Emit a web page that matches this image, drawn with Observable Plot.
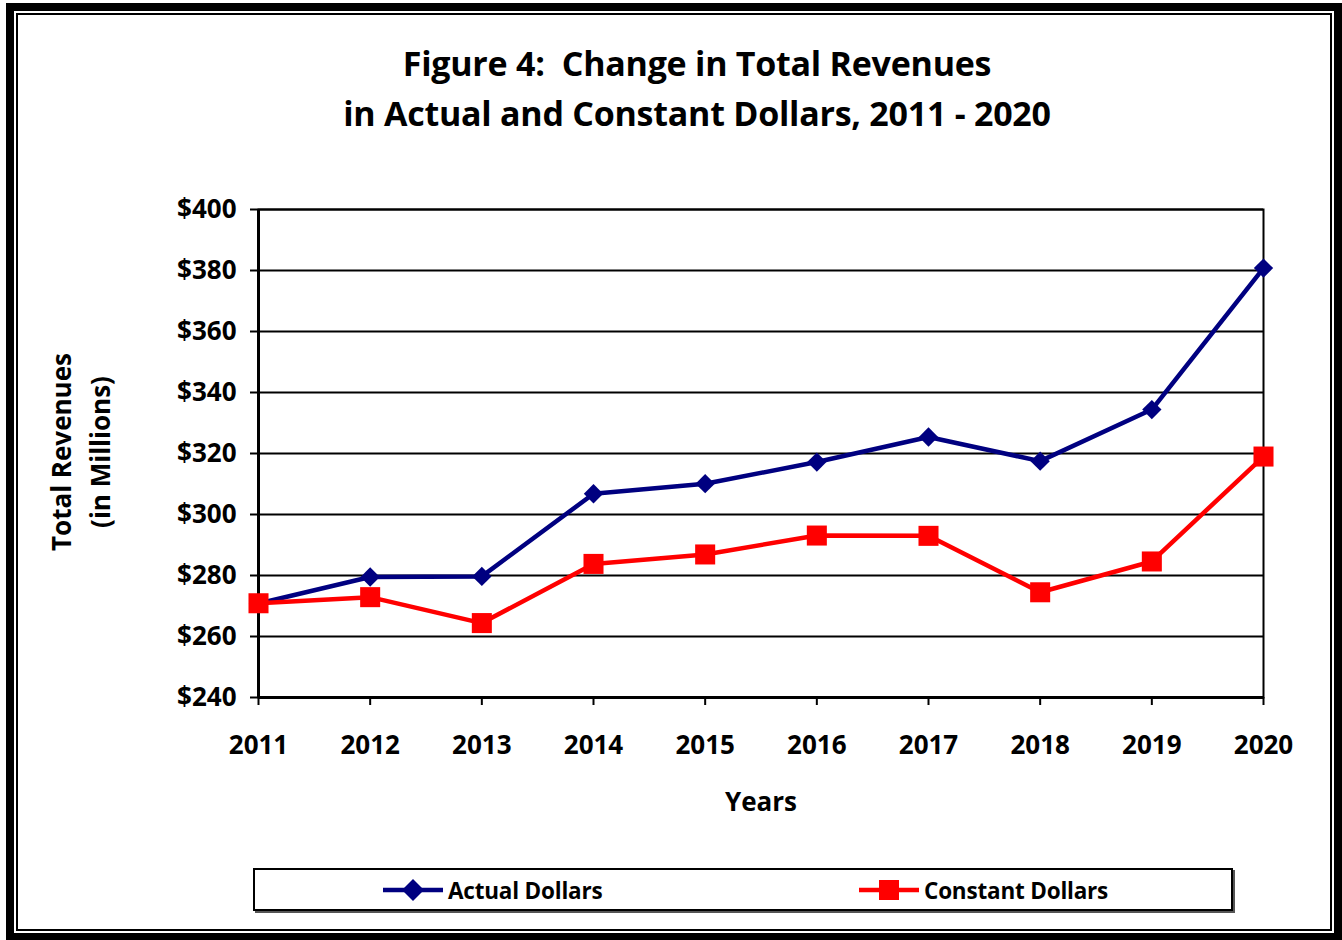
<!DOCTYPE html>
<html>
<head>
<meta charset="utf-8">
<script src="https://cdn.jsdelivr.net/npm/d3@7"></script>
<script src="https://cdn.jsdelivr.net/npm/@observablehq/plot@0.6"></script>
<style>
  html, body { margin: 0; padding: 0; background: #fff; }
  body { width: 1342px; height: 940px; position: relative; overflow: hidden; font-family: "Open Sans", Lato, sans-serif; font-weight: bold; color: #000; }
  #outer { position: absolute; left: 6px; top: 3px; width: 1336px; height: 937px; box-sizing: border-box; border: 8px solid #000; border-bottom-width: 7px; }
  #inner { position: absolute; left: 16px; top: 13px; width: 1316px; height: 918px; box-sizing: border-box; border: 2px solid #000; }
  #chart { position: absolute; left: 0; top: 0; }
  .title { position: absolute; left: 0; width: 1394px; text-align: center; font-size: 34px; line-height: 40px; letter-spacing: -0.25px; }
  .ylab { position: absolute; font-size: 26px; line-height: 30px; transform: rotate(-90deg); transform-origin: center center; text-align: center; white-space: nowrap; width: 300px; }
  #xlab { position: absolute; left: 661px; width: 200px; top: 786px; text-align: center; font-size: 26px; line-height: 30px; }
  #legend { position: absolute; left: 253px; top: 868px; width: 980px; height: 43px; box-sizing: border-box; border: 2px solid #000; box-shadow: 2px 2px 0 #555; background: #fff; }
  .item { position: absolute; top: 4px; height: 32px; display: flex; align-items: center; font-size: 22.5px; letter-spacing: -0.2px; }
  .item svg { margin-right: 4px; }
</style>
</head>
<body>
<div id="outer"></div>
<div id="inner"></div>
<div id="chart"></div>
<div class="title" style="top:43px;">Figure 4:&nbsp; Change in Total Revenues</div>
<div class="title" style="top:93px;">in Actual and Constant Dollars, 2011 - 2020</div>
<div class="ylab" style="left:-89px; top:437px;">Total Revenues</div>
<div class="ylab" style="left:-50px; top:437px;">(in Millions)</div>
<div id="xlab">Years</div>
<div id="legend">
  <div class="item" style="left:127px;">
    <svg width="62" height="30"><line x1="1" y1="15" x2="61" y2="15" stroke="#000080" stroke-width="4.5"/><path d="M31,4 L42,15 L31,26 L20,15 Z" fill="#000080"/></svg><span>Actual Dollars</span>
  </div>
  <div class="item" style="left:603px;">
    <svg width="62" height="30"><line x1="1" y1="15" x2="61" y2="15" stroke="#ff0000" stroke-width="4.5"/><rect x="21" y="5" width="20" height="20" fill="#ff0000"/></svg><span>Constant Dollars</span>
  </div>
</div>
<script>
const years = [2011, 2012, 2013, 2014, 2015, 2016, 2017, 2018, 2019, 2020];
const actualDollars = [270.8, 279.5, 279.7, 306.8, 310.1, 317.2, 325.4, 317.5, 334.4, 380.8];
const constantDollars = [270.9, 272.9, 264.4, 283.8, 286.9, 293.1, 293.0, 274.5, 284.6, 319.0];
const yTicks = [240, 260, 280, 300, 320, 340, 360, 380, 400];
const seriesNames = ["Actual Dollars", "Constant Dollars"];

const actual = years.map((y, i) => ({year: y, value: actualDollars[i], series: seriesNames[0]}));
const constant = years.map((y, i) => ({year: y, value: constantDollars[i], series: seriesNames[1]}));

const font = '"Open Sans", Lato, sans-serif';
const chart = Plot.plot({
  width: 1342,
  height: 940,
  marginLeft: 258,
  marginRight: 79,
  marginTop: 209,
  marginBottom: 243,
  style: {fontFamily: font, fontSize: "26px", fontWeight: "bold", color: "#000", background: "transparent", overflow: "visible"},
  x: {type: "linear", domain: [2011, 2020], ticks: years, tickFormat: d => String(d), label: null},
  y: {domain: [240, 400], ticks: yTicks, tickFormat: d => "$" + d, label: null},
  marks: [
    Plot.gridY(yTicks, {stroke: "#000", strokeOpacity: 1, strokeWidth: 2}),
    Plot.frame({stroke: "#000", strokeWidth: 2}),
    Plot.axisY({ticks: yTicks, tickFormat: d => "$" + d, tickSize: 8, tickPadding: 14, strokeWidth: 2, label: null}),
    Plot.axisX({ticks: years, tickFormat: d => String(d), tickSize: 8, tickPadding: 30, strokeWidth: 2, label: null}),
    Plot.ruleX([2011], {stroke: "#000", strokeWidth: 3}),
    Plot.ruleY([240], {stroke: "#000", strokeWidth: 3}),
    Plot.line(actual, {x: "year", y: "value", stroke: "#000080", strokeWidth: 4.5}),
    Plot.dot(actual, {x: "year", y: "value", symbol: "diamond2", r: 8.7, fill: "#000080", stroke: "none"}),
    Plot.line(constant, {x: "year", y: "value", stroke: "#ff0000", strokeWidth: 4.5}),
    Plot.dot(constant, {x: "year", y: "value", symbol: "square", r: 11.3, fill: "#ff0000", stroke: "none"})
  ]
});
document.getElementById("chart").appendChild(chart);
</script>
</body>
</html>
